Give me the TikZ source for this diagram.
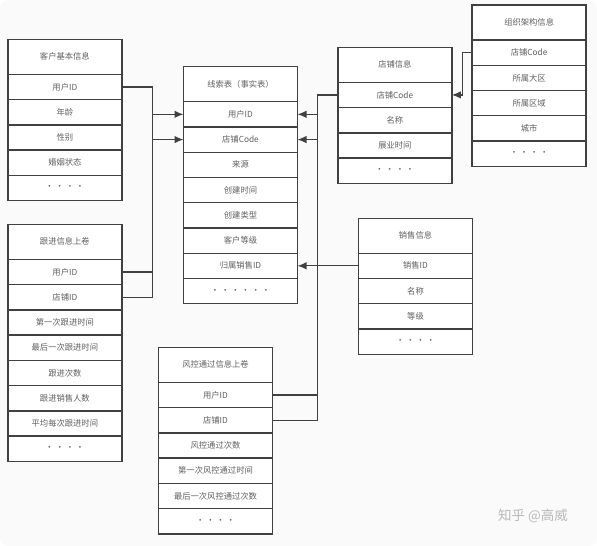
\documentclass[tikz,border=0pt]{standalone}
\usepackage{fontspec}
\newfontfamily\cjk{Noto Sans CJK SC}
\usetikzlibrary{positioning,arrows.meta}

\definecolor{linecol}{HTML}{404040}
\definecolor{textcol}{HTML}{606060}
\definecolor{bgcol}{HTML}{FAFAFA}

\tikzset{
    cell/.style={draw=linecol, line width=1.4pt, fill=white, minimum width=114pt,
        minimum height=25.25pt, inner sep=0pt, outer sep=0pt,
        font=\cjk\fontsize{8.3}{10}\selectfont, text=textcol},
    head/.style={cell, minimum height=35pt},
    link/.style={draw=linecol, line width=1.3pt},
    arr/.style={link, -{Latex[length=9pt,width=7.5pt]}},
}

\begin{document}
\begin{tikzpicture}[x=1pt, y=-1pt]
        \fill[bgcol, rounded corners=8pt] (0,0) rectangle (597,546);
        \useasboundingbox (0,0) rectangle (597,546);

        % 客户基本信息
        \node[head] (kh) at (64.85,56.8) {客户基本信息};
        \node[cell, below=0pt of kh] (kh1) {用户ID};
        \node[cell, below=0pt of kh1] (kh2) {年龄};
        \node[cell, below=0pt of kh2] (kh3) {性别};
        \node[cell, below=0pt of kh3] (kh4) {婚姻状态};
        \node[cell, below=0pt of kh4] (kh5) {·\ ·\ ·\ ·};

        % 跟进信息上卷
        \node[head] (gj) at (64.85,241.8) {跟进信息上卷};
        \node[cell, below=0pt of gj] (gj1) {用户ID};
        \node[cell, below=0pt of gj1] (gj2) {店铺ID};
        \node[cell, below=0pt of gj2] (gj3) {第一次跟进时间};
        \node[cell, below=0pt of gj3] (gj4) {最后一次跟进时间};
        \node[cell, below=0pt of gj4] (gj5) {跟进次数};
        \node[cell, below=0pt of gj5] (gj6) {跟进销售人数};
        \node[cell, below=0pt of gj6] (gj7) {平均每次跟进时间};
        \node[cell, below=0pt of gj7] (gj8) {·\ ·\ ·\ ·};

        % 线索表（事实表）
        \node[head] (xs) at (240.5,84.2) {线索表（事实表）};
        \node[cell, below=0pt of xs] (xs1) {用户ID};
        \node[cell, below=0pt of xs1] (xs2) {店铺Code};
        \node[cell, below=0pt of xs2] (xs3) {来源};
        \node[cell, below=0pt of xs3] (xs4) {创建时间};
        \node[cell, below=0pt of xs4] (xs5) {创建类型};
        \node[cell, below=0pt of xs5] (xs6) {客户等级};
        \node[cell, below=0pt of xs6] (xs7) {归属销售ID};
        \node[cell, below=0pt of xs7] (xs8) {·\ ·\ ·\ ·\ ·\ ·};

        % 风控通过信息上卷
        \node[head] (fk) at (215.5,364.8) {风控通过信息上卷};
        \node[cell, below=0pt of fk] (fk1) {用户ID};
        \node[cell, below=0pt of fk1] (fk2) {店铺ID};
        \node[cell, below=0pt of fk2] (fk3) {风控通过次数};
        \node[cell, below=0pt of fk3] (fk4) {第一次风控通过时间};
        \node[cell, below=0pt of fk4] (fk5) {最后一次风控通过次数};
        \node[cell, below=0pt of fk5] (fk6) {·\ ·\ ·\ ·};

        % 店铺信息
        \node[head] (dp) at (394.85,64.8) {店铺信息};
        \node[cell, below=0pt of dp] (dp1) {店铺Code};
        \node[cell, below=0pt of dp1] (dp2) {名称};
        \node[cell, below=0pt of dp2] (dp3) {展业时间};
        \node[cell, below=0pt of dp3] (dp4) {·\ ·\ ·\ ·};

        % 组织架构信息
        \node[head] (zz) at (529.15,22.5) {组织架构信息};
        \node[cell, below=0pt of zz] (zz1) {店铺Code};
        \node[cell, below=0pt of zz1] (zz2) {所属大区};
        \node[cell, below=0pt of zz2] (zz3) {所属区域};
        \node[cell, below=0pt of zz3] (zz4) {城市};
        \node[cell, below=0pt of zz4] (zz5) {·\ ·\ ·\ ·};

        % 销售信息
        \node[head] (xsh) at (415.5,235.7) {销售信息};
        \node[cell, below=0pt of xsh] (xsh1) {销售ID};
        \node[cell, below=0pt of xsh1] (xsh2) {名称};
        \node[cell, below=0pt of xsh2] (xsh3) {等级};
        \node[cell, below=0pt of xsh3] (xsh4) {·\ ·\ ·\ ·};

        % left bus
        \coordinate (bl) at (152.7,0);
        \draw[link] (kh1.east) -| (gj2.east -| bl) -- (gj2.east);
        \draw[link] (gj1.east) -- (gj1.east -| bl);
        \draw[arr] (xs1.west -| bl) -- (xs1.west);
        \draw[arr] (xs2.west -| bl) -- (xs2.west);

        % right bus
        \coordinate (br) at (317.3,0);
        \draw[link] (dp1.west) -| (fk2.east -| br) -- (fk2.east);
        \draw[link] (fk1.east) -- (fk1.east -| br);
        \draw[arr] (xs1.east -| br) -- (xs1.east);
        \draw[arr] (xs2.east -| br) -- (xs2.east);

        \draw[arr] (xsh1.west) -- (xsh1.west -| xs7.east);
        \draw[arr] (zz1.west) -- ++(-10,0) |- (dp1.east);

        \node[text=gray!55, font=\cjk\fontsize{13.5}{16}\selectfont] (wm) at (533,516) {知乎 @高威};
    \end{tikzpicture}
\end{document}
